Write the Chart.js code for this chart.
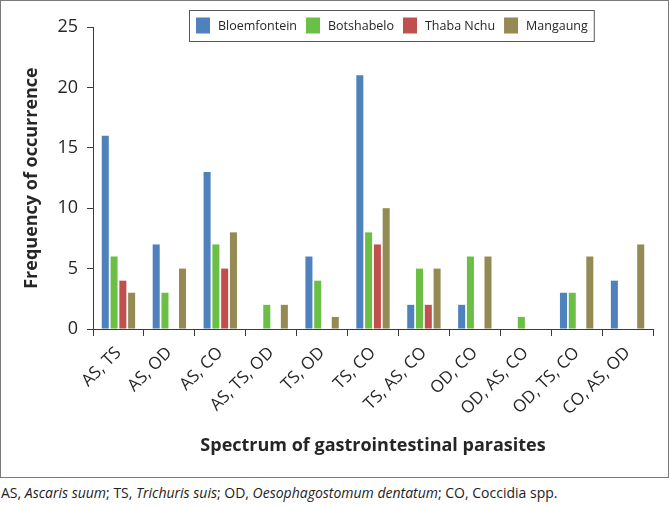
<!DOCTYPE html>
<html>
<head>
<meta charset="utf-8">
<script src="https://cdn.jsdelivr.net/npm/chart.js@4"></script>
<style>
  body { margin: 0; background: #fff; font-family: "Open Sans", sans-serif; }
  .frame {
    position: absolute; left: 0; top: 0; width: 669px; height: 478px;
    box-sizing: border-box; border: 1px solid #7a7a7a;
  }
  .wrap { position: absolute; left: 0; top: 0; width: 667px; height: 476px; }
  .caption {
    position: absolute; left: 1px; top: 483px; font-size: 14px; color: #222; white-space: nowrap;
  }
</style>
</head>
<body>
<div class="frame">
  <div class="wrap"><canvas id="chart" width="667" height="476"></canvas></div>
</div>
<div class="caption">AS, <i>Ascaris suum</i>; TS, <i>Trichuris suis</i>; OD, <i>Oesophagostomum dentatum</i>; CO, Coccidia spp.</div>
<script>
// parasite combinations
const combos = ['AS, TS', 'AS, OD', 'AS, CO', 'AS, TS, OD', 'TS, OD', 'TS, CO',
                'TS, AS, CO', 'OD, CO', 'OD, AS, CO', 'OD, TS, CO', 'CO, AS, OD'];

// frequency per area
const bloemfontein = [16, 7, 13, 0, 6, 21, 2, 2, 0, 3, 4];
const botshabelo   = [6, 3, 7, 2, 4, 8, 5, 6, 1, 3, 0];
const thabaNchu    = [4, 0, 5, 0, 0, 7, 2, 0, 0, 0, 0];
const mangaung     = [3, 5, 8, 2, 1, 10, 5, 6, 0, 6, 7];

const areaNames = ['Bloemfontein', 'Botshabelo', 'Thaba Nchu', 'Mangaung'];
const areaColors = ['#4F81BD', '#6CBF45', '#C0504D', '#948A54'];

const yTicks = [0, 5, 10, 15, 20, 25];

const FONT = '"Open Sans", sans-serif';
const TEXT = '#262626';
const AXIS = '#3a3a3a';

// legend drawn as a boxed row in the top right, overlapping the plot
const boxedLegend = {
  id: 'boxedLegend',
  afterDraw(chart) {
    const ctx = chart.ctx;
    ctx.save();
    ctx.font = '12.5px ' + FONT;
    ctx.textBaseline = 'middle';
    const left = 188, top = 9, h = 31;
    const cy = top + h / 2;
    let x = left + 7;
    chart.data.datasets.forEach((ds, i) => {
      ctx.fillStyle = ds.backgroundColor;
      ctx.fillRect(x, cy - 8, 14, 16);
      x += 14 + 8;
      ctx.fillStyle = TEXT;
      ctx.fillText(ds.label, x, cy + 1);
      x += ctx.measureText(ds.label).width;
      if (i < chart.data.datasets.length - 1) x += 9;
    });
    ctx.strokeStyle = '#555';
    ctx.lineWidth = 1;
    ctx.strokeRect(left + 0.5, top + 0.5, x + 6 - left, h);
    ctx.restore();
  }
};

const datasets = [bloemfontein, botshabelo, thabaNchu, mangaung].map((vals, i) => ({
  label: areaNames[i],
  data: vals,
  backgroundColor: areaColors[i],
  categoryPercentage: 0.69,
  barPercentage: 0.8
}));

new Chart(document.getElementById('chart'), {
  type: 'bar',
  data: { labels: combos, datasets: datasets },
  plugins: [boxedLegend],
  options: {
    responsive: false,
    animation: false,
    layout: { padding: { top: 26, right: 15, left: 0, bottom: 0 } },
    plugins: { legend: { display: false }, tooltip: { enabled: false } },
    scales: {
      x: {
        grid: { drawOnChartArea: false, tickLength: 7, color: AXIS },
        border: { color: AXIS, width: 1 },
        ticks: { color: TEXT, font: { family: FONT, size: 17 }, maxRotation: 45, minRotation: 45, padding: 7 },
        title: { display: true, text: 'Spectrum of gastrointestinal parasites', color: TEXT,
                 font: { family: FONT, size: 18, weight: 'bold' }, padding: { bottom: 20 } },
        afterFit(scale) { scale.height = 148; }
      },
      y: {
        min: 0, max: 25,
        afterBuildTicks(scale) { scale.ticks = yTicks.map(v => ({ value: v })); },
        grid: { drawOnChartArea: false, tickLength: 6, color: AXIS },
        border: { color: AXIS, width: 1 },
        ticks: { color: TEXT, font: { family: FONT, size: 18 }, padding: 9 },
        title: { display: true, text: 'Frequency of occurrence', color: TEXT,
                 font: { family: FONT, size: 18, weight: 'bold' }, padding: { top: 20 } },
        afterFit(scale) { scale.width = 92; }
      }
    }
  }
});
</script>
</body>
</html>
